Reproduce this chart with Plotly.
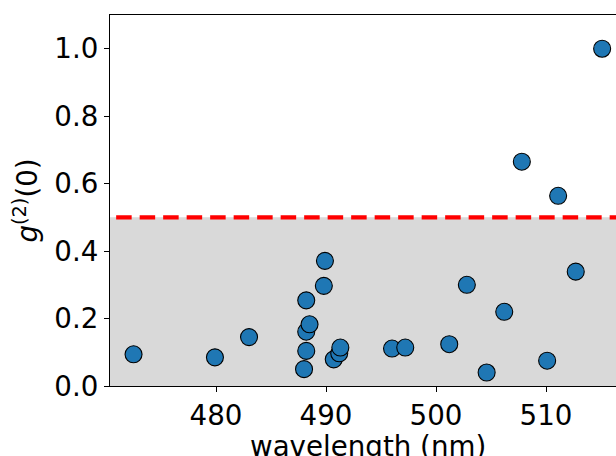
import plotly.graph_objects as go

wavelength = [472.5, 479.9, 483.0, 488.0, 488.2, 488.2, 488.5, 488.2, 489.8, 489.9,
              490.7, 491.2, 491.3, 496.0, 497.2, 501.2, 502.8, 504.6, 506.2, 510.1,
              512.7, 515.1, 507.8, 511.1]
g2 = [0.094, 0.085, 0.145, 0.050, 0.104, 0.161, 0.183, 0.254, 0.297, 0.371,
      0.079, 0.097, 0.114, 0.111, 0.114, 0.124, 0.300, 0.040, 0.220, 0.075,
      0.339, 1.000, 0.665, 0.564]
threshold = 0.5
x_range = [470.36, 516.36]
y_range = [0.0, 1.1]
x_ticks = [480, 490, 500, 510]
y_ticks = [0.0, 0.2, 0.4, 0.6, 0.8, 1.0]

FONT = "DejaVu Sans"
FS = 27.7
W, H = 616, 456
ML, MR, MT, MB = 110, 0, 15, 70

fig = go.Figure()

# shaded region below threshold
fig.add_shape(type="rect", xref="paper", yref="y", x0=0, x1=1, y0=0, y1=threshold,
              fillcolor="#d9d9d9", line=dict(width=0), layer="below")

# threshold dashed line
fig.add_trace(go.Scatter(
    x=[470.92, x_range[1] + 2], y=[threshold, threshold], mode="lines",
    line=dict(color="red", width=4.2, dash="15.5px,8px"),
    hoverinfo="skip", showlegend=False))

fig.add_trace(go.Scatter(
    x=wavelength, y=g2, mode="markers",
    marker=dict(size=17, color="#1f77b4", line=dict(color="black", width=1.1)),
    showlegend=False))

# x axis title as annotation (centred on the full axes, which extends past the window)
fig.add_annotation(text="wavelength (nm)", xref="paper", yref="paper",
                   x=(367.5 - ML) / (W - ML - MR), y=0, yshift=-(446 - (H - MB)),
                   xanchor="center", yanchor="middle", showarrow=False,
                   font=dict(family=FONT, size=FS, color="black"))

fig.update_layout(
    width=W, height=H,
    margin=dict(l=ML, r=MR, t=MT, b=MB),
    paper_bgcolor="white", plot_bgcolor="white",
    font=dict(family=FONT, size=FS, color="black"),
    xaxis=dict(range=x_range, tickvals=x_ticks, ticks="outside", ticklen=5, tickwidth=1.1,
               tickcolor="black", showline=True, linecolor="black", linewidth=1.1,
               mirror=True, showgrid=False, zeroline=False),
    yaxis=dict(range=y_range, tickvals=y_ticks, tickformat=".1f", ticks="outside",
               ticklen=5, tickwidth=1.1, tickcolor="black", showline=True,
               linecolor="black", linewidth=1.1, mirror=False, showgrid=False,
               zeroline=False,
               title=dict(text="<i>g</i><sup>(2)</sup>(0)", font=dict(size=FS), standoff=8)),
)

fig.write_html("out.html", config={"displayModeBar": False},
               post_script="document.body.style.margin='0';document.body.style.overflow='hidden';")
